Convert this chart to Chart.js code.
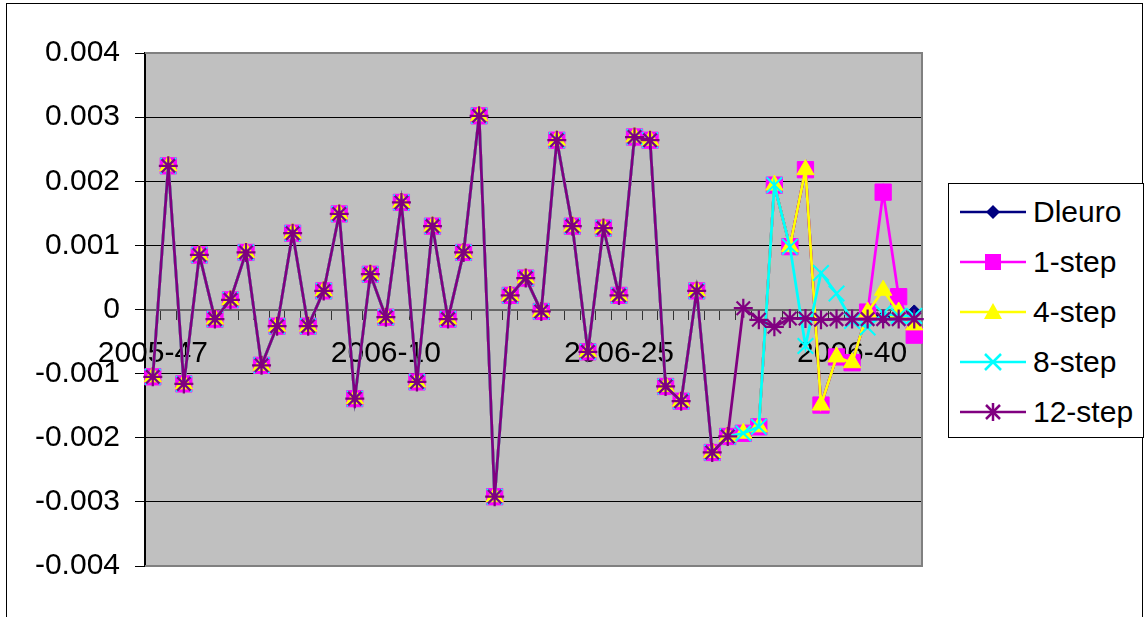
<!DOCTYPE html>
<html>
<head>
<meta charset="utf-8">
<script src="https://cdn.jsdelivr.net/npm/chart.js@4.4.1/dist/chart.umd.min.js"></script>
<style>
  html, body { margin: 0; padding: 0; background: #fff; }
  #wrap { position: relative; width: 1148px; height: 617px; overflow: hidden; font-family: 'Liberation Sans', Arial, sans-serif; }
  #frame { position: absolute; left: 6px; top: 3px; width: 1137px; height: 660px; border: 1px solid #000; box-sizing: border-box; }
  #chart { position: absolute; left: 0; top: 0; width: 1148px; height: 617px; }
  #legend { position: absolute; left: 948px; top: 183px; width: 196px; height: 255px; border: 1px solid #000; box-sizing: border-box; background: #fff; }
  .row { position: absolute; left: 0; height: 40px; width: 190px; }
  .row svg { position: absolute; left: 11px; top: 8px; }
  .row span { position: absolute; left: 84px; top: 2px; font-size: 30px; line-height: 36px; color: #000; white-space: nowrap; }
</style>
</head>
<body>
<div id="wrap">
  <div id="frame"></div>
  <canvas id="chart" width="1148" height="617"></canvas>
  <div id="legend"></div>
</div>
<script>
// weekly categories, 2005-47 .. 2006-44
const weeks = [
  '2005-47', '2005-48', '2005-49', '2005-50', '2005-51', '2005-52',
  '2006-01', '2006-02', '2006-03', '2006-04', '2006-05', '2006-06', '2006-07', '2006-08', '2006-09', '2006-10',
  '2006-11', '2006-12', '2006-13', '2006-14', '2006-15', '2006-16', '2006-17', '2006-18', '2006-19', '2006-20',
  '2006-21', '2006-22', '2006-23', '2006-24', '2006-25', '2006-26', '2006-27', '2006-28', '2006-29', '2006-30',
  '2006-31', '2006-32', '2006-33', '2006-34', '2006-35', '2006-36', '2006-37', '2006-38', '2006-39', '2006-40',
  '2006-41', '2006-42', '2006-43', '2006-44'
];
const shownWeeks = ['2005-47', '2006-10', '2006-25', '2006-40'];
const yTicks = [-0.004, -0.003, -0.002, -0.001, 0, 0.001, 0.002, 0.003, 0.004];

const dleuro = [
  -0.00105, 0.00224, -0.00116, 0.00085, -0.00015, 0.00015, 0.00089, -0.00087, -0.00026, 0.00119,
  -0.00026, 0.00029, 0.00149, -0.00139, 0.00055, -0.00012, 0.00167, -0.00113, 0.0013, -0.00015,
  0.00089, 0.00302, -0.00292, 0.00022, 0.00049, -0.00003, 0.00264, 0.0013, -0.00066, 0.00127,
  0.00022, 0.00269, 0.00264, -0.0012, -0.00143, 0.00029, -0.00223, -0.00198, -0.00193, -0.00183,
  0.00194, 0.00098, 0.00218, -0.00149, -0.00074, -0.00083, -0.00004, -0.00012, -0.0001, -0.00003
];
const step1 = [
  -0.00105, 0.00224, -0.00116, 0.00085, -0.00015, 0.00015, 0.00089, -0.00087, -0.00026, 0.00119,
  -0.00026, 0.00029, 0.00149, -0.00139, 0.00055, -0.00012, 0.00167, -0.00113, 0.0013, -0.00015,
  0.00089, 0.00302, -0.00292, 0.00022, 0.00049, -0.00003, 0.00264, 0.0013, -0.00066, 0.00127,
  0.00022, 0.00269, 0.00264, -0.0012, -0.00143, 0.00029, -0.00223, -0.00198, -0.00193, -0.00183,
  0.00194, 0.00098, 0.00218, -0.00149, -0.00074, -0.00083, -0.00004, 0.00183, 0.0002, -0.0004
];
const step4 = [
  -0.00105, 0.00224, -0.00116, 0.00085, -0.00015, 0.00015, 0.00089, -0.00087, -0.00026, 0.00119,
  -0.00026, 0.00029, 0.00149, -0.00139, 0.00055, -0.00012, 0.00167, -0.00113, 0.0013, -0.00015,
  0.00089, 0.00302, -0.00292, 0.00022, 0.00049, -0.00003, 0.00264, 0.0013, -0.00066, 0.00127,
  0.00022, 0.00269, 0.00264, -0.0012, -0.00143, 0.00029, -0.00223, -0.00198, -0.00193, -0.00183,
  0.00194, 0.00098, 0.00218, -0.00149, -0.00074, -0.00083, -0.00004, 0.0003, -0.00004, -0.00024
];
const step8 = [
  -0.00105, 0.00224, -0.00116, 0.00085, -0.00015, 0.00015, 0.00089, -0.00087, -0.00026, 0.00119,
  -0.00026, 0.00029, 0.00149, -0.00139, 0.00055, -0.00012, 0.00167, -0.00113, 0.0013, -0.00015,
  0.00089, 0.00302, -0.00292, 0.00022, 0.00049, -0.00003, 0.00264, 0.0013, -0.00066, 0.00127,
  0.00022, 0.00269, 0.00264, -0.0012, -0.00143, 0.00029, -0.00223, -0.00198, -0.00193, -0.00183,
  0.00194, 0.00098, -0.00057, 0.00057, 0.00025, -0.00018, -0.00028, -0.00006, -0.0001, -0.0001
];
const step12 = [
  -0.00105, 0.00224, -0.00116, 0.00085, -0.00015, 0.00015, 0.00089, -0.00087, -0.00026, 0.00119,
  -0.00026, 0.00029, 0.00149, -0.00139, 0.00055, -0.00012, 0.00167, -0.00113, 0.0013, -0.00015,
  0.00089, 0.00302, -0.00292, 0.00022, 0.00049, -0.00003, 0.00264, 0.0013, -0.00066, 0.00127,
  0.00022, 0.00269, 0.00264, -0.0012, -0.00143, 0.00029, -0.00223, -0.00198, 0.00002, -0.00016,
  -0.00027, -0.00014, -0.00014, -0.00016, -0.00015, -0.00015, -0.00015, -0.00015, -0.00015, -0.00015
];

const seriesNames = ['Dleuro', '1-step', '4-step', '8-step', '12-step'];
const seriesColors = ['#000080', '#FF00FF', '#FFFF00', '#00FFFF', '#800080'];

Chart.defaults.font.family = "'Liberation Sans', Arial, sans-serif";
Chart.defaults.font.size = 30;
Chart.defaults.color = '#000';

// grey plot area + frame like the old spreadsheet charts
const plotFrame = {
  id: 'plotFrame',
  beforeDraw(chart) {
    const { ctx, chartArea: a } = chart;
    ctx.save();
    ctx.fillStyle = '#C0C0C0';
    ctx.fillRect(a.left, a.top, a.right - a.left, a.bottom - a.top);
    ctx.restore();
  },
  beforeDatasetsDraw(chart) {
    const { ctx, chartArea: a } = chart;
    ctx.save();
    ctx.strokeStyle = '#808080';
    ctx.lineWidth = 2;
    ctx.beginPath();
    ctx.moveTo(a.left, a.top);
    ctx.lineTo(a.right, a.top);
    ctx.lineTo(a.right, a.bottom);
    ctx.lineTo(a.left, a.bottom);
    ctx.stroke();
    ctx.restore();
  }
};

function makeSet(i, data, style, radius, pbw, order) {
  return {
    label: seriesNames[i],
    data,
    borderColor: seriesColors[i],
    backgroundColor: seriesColors[i],
    pointBackgroundColor: seriesColors[i],
    pointBorderColor: seriesColors[i],
    pointStyle: style,
    pointRadius: radius,
    pointBorderWidth: pbw,
    borderWidth: 2.75,
    tension: 0,
    order
  };
}

new Chart(document.getElementById('chart'), {
  type: 'line',
  data: {
    labels: weeks,
    datasets: [
      makeSet(0, dleuro, 'rectRot', 6.5, 1, 5),
      makeSet(1, step1, 'rect', 11.5, 1, 4),
      makeSet(2, step4, 'triangle', 10, 1, 3),
      makeSet(3, step8, 'crossRot', 11, 2, 2),
      makeSet(4, step12, 'star', 9.5, 2.25, 1)
    ]
  },
  plugins: [plotFrame],
  options: {
    responsive: false,
    animation: false,
    events: [],
    layout: { padding: { left: 0, right: 226, top: 53, bottom: 51 } },
    plugins: { legend: { display: false }, tooltip: { enabled: false } },
    scales: {
      x: {
        position: { y: 0 },
        offset: true,
        grid: { display: true, drawOnChartArea: false, drawTicks: true, tickLength: 9, color: '#333', offset: true },
        border: { display: true, color: '#666', width: 2 },
        ticks: {
          autoSkip: false,
          maxRotation: 0,
          minRotation: 0,
          padding: 17,
          callback(value, index) {
            const w = weeks[index];
            return shownWeeks.includes(w) ? w : '';
          }
        }
      },
      y: {
        min: -0.004,
        max: 0.004,
        afterBuildTicks(scale) { scale.ticks = yTicks.map((v) => ({ value: v })); },
        afterFit(scale) { scale.width = 145; },
        grid: { color: '#000', lineWidth: 1, tickLength: 10 },
        border: { display: true, color: '#000', width: 2 },
        ticks: {
          padding: 15,
          callback(value) { return String(Number(Number(value).toFixed(3))); }
        }
      }
    }
  }
});

// legend: line with marker, like the spreadsheet legend
const markerSvg = [
  '<polygon points="33,5 40,12 33,19 26,12" fill="#000080"/>',
  '<rect x="25" y="4" width="16" height="16" fill="#FF00FF"/>',
  '<polygon points="33,3 42,19 24,19" fill="#FFFF00"/>',
  '<line x1="25" y1="4" x2="41" y2="20" stroke="#00FFFF" stroke-width="2.5"/><line x1="41" y1="4" x2="25" y2="20" stroke="#00FFFF" stroke-width="2.5"/>',
  '<line x1="26" y1="5" x2="40" y2="19" stroke="#800080" stroke-width="2.5"/><line x1="40" y1="5" x2="26" y2="19" stroke="#800080" stroke-width="2.5"/><line x1="33" y1="3" x2="33" y2="21" stroke="#800080" stroke-width="2.5"/>'
];
document.getElementById('legend').innerHTML = seriesNames.map((name, i) => `
  <div class="row" style="top:${8 + i * 50}px">
    <svg width="70" height="24"><line x1="0" y1="12" x2="66" y2="12" stroke="${seriesColors[i]}" stroke-width="2.5"/>${markerSvg[i]}</svg>
    <span>${name}</span>
  </div>`).join('');
</script>
</body>
</html>
